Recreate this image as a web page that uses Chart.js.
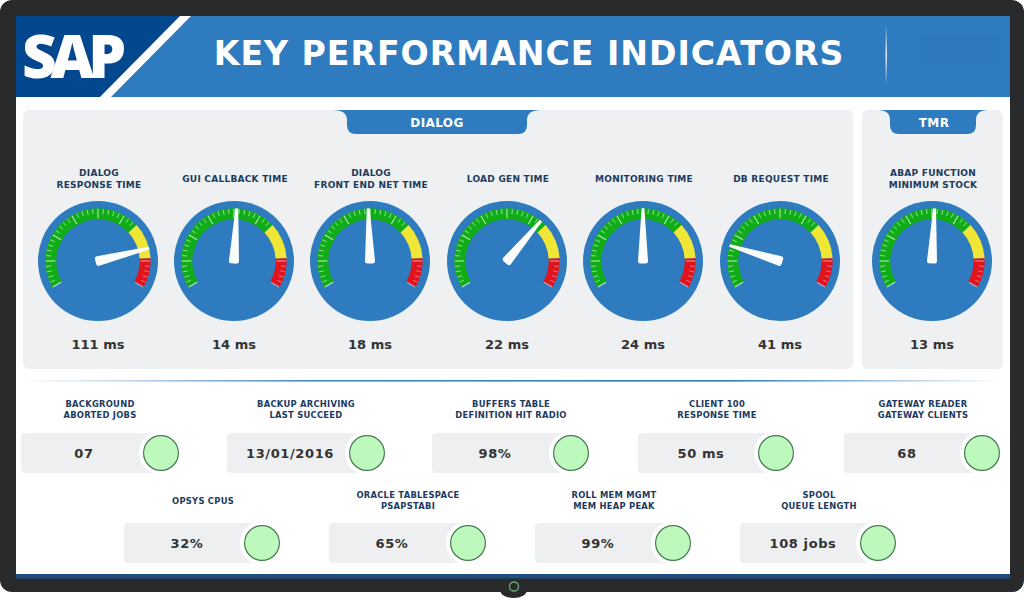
<!DOCTYPE html>
<html>
<head>
<meta charset="utf-8">
<title>Key Performance Indicators</title>
<script src="https://cdn.jsdelivr.net/npm/chart.js@4"></script>
<style>
    html, body { margin: 0; padding: 0; background: #fff; }
    #stage { position: relative; width: 1024px; height: 606px; overflow: hidden; font-family: "DejaVu Sans", sans-serif; }
    #stage svg { position: absolute; left: 0; top: 0; }
    .txt { position: absolute; transform: translate(-50%, -50%); white-space: pre; text-align: center; font-weight: bold; }
    .title { font-size: 34px; letter-spacing: 1px; color: #fff; transform: translate(-50%, -50%) scaleX(0.975); }
    .logo { font-family: "Open Sans", sans-serif; font-weight: 800; font-size: 60px; letter-spacing: -6px; color: #fff; }
    .tab { font-size: 12px; letter-spacing: 0.4px; color: #fff; }
    .label { font-size: 9px; line-height: 12.5px; letter-spacing: 0.25px; color: #1c3b60; }
    .tlabel { font-size: 8.4px; line-height: 11px; letter-spacing: 0.25px; color: #1c3b60; }
    .value { font-size: 13px; color: #333; }
    .tvalue { font-size: 13px; letter-spacing: 0.6px; color: #333; }
    .tile { position: absolute; width: 145px; height: 40px; background: #edeff0; border-radius: 4px; }
    .halo { position: absolute; width: 44px; height: 44px; border-radius: 50%; background: #fff; }
    canvas { position: absolute; }
    .gauge { border-radius: 50%; background: #2e7cbf; }
</style>
</head>
<body>
<div id="stage">
    <svg width="1024" height="606">
        <defs>
            <linearGradient id="sep" x1="0" x2="1" y1="0" y2="0">
                <stop offset="0" stop-color="#2e7cbf" stop-opacity="0"/>
                <stop offset="0.3" stop-color="#2e7cbf" stop-opacity="0.9"/>
                <stop offset="0.72" stop-color="#2e7cbf"/>
                <stop offset="1" stop-color="#2e7cbf" stop-opacity="0"/>
            </linearGradient>
            <linearGradient id="glint" x1="0" x2="0" y1="0" y2="1">
                <stop offset="0" stop-color="#fff" stop-opacity="0"/>
                <stop offset="0.5" stop-color="#fff" stop-opacity="0.9"/>
                <stop offset="1" stop-color="#fff" stop-opacity="0"/>
            </linearGradient>
        </defs>
        <rect x="0" y="0" width="1024" height="592" rx="12" fill="#292a2c"/>
        <path d="M500 590 A13.5 8 0 0 0 527 590 Z" fill="#292a2c"/>
        <rect x="16" y="16" width="994" height="562" fill="#fff"/>
        <rect x="16" y="16" width="994" height="81" fill="#2e7cbf"/>
        <rect x="920" y="35" width="80" height="30" fill="#2d79bb"/>
        <polygon points="16,16 180,16 100,97 16,97" fill="#03478f"/>
        <polygon points="180,16 191,16 111,97 100,97" fill="#fff"/>
        <rect x="885.5" y="24" width="1.5" height="62" fill="url(#glint)"/>
        <rect x="16" y="574" width="994" height="4.5" fill="#1d4f7f"/>
        <circle cx="514" cy="586.5" r="4.5" fill="none" stroke="#6fae7d" stroke-width="1.3"/>
        <rect x="23" y="110" width="830" height="259" rx="6" fill="#eef0f2"/>
        <rect x="862" y="110" width="141" height="259" rx="6" fill="#eef0f2"/>
        <path d="M333 110 Q347 110 347 120 L347 125 Q347 134 356 134 L518 134 Q527 134 527 125 L527 120 Q527 110 541 110 Z" fill="#2e7cbf"/>
        <path d="M878 110 Q890 110 890 120 L890 125 Q890 134 899 134 L967 134 Q976 134 976 125 L976 120 Q976 110 988 110 Z" fill="#2e7cbf"/>
        <rect x="23" y="380" width="980" height="1.6" fill="url(#sep)"/>
    </svg>
</div>
<script>
const titleText = 'KEY PERFORMANCE INDICATORS';
const logoText = 'SAP';
const groupNames = ['DIALOG', 'TMR'];

const gaugeLabels = ['DIALOG\nRESPONSE TIME', 'GUI CALLBACK TIME', 'DIALOG\nFRONT END NET TIME', 'LOAD GEN TIME', 'MONITORING TIME', 'DB REQUEST TIME', 'ABAP FUNCTION\nMINIMUM STOCK'];
const gaugeValues = [111, 14, 18, 22, 24, 41, 13];
const gaugeMax = [136, 27.3, 36.6, 33, 48, 209, 25.4];
const gaugeUnit = 'ms';
const zoneSpans = [167, 40, 33];
const zoneColors = ['#10ad17', '#efe635', '#e0141f'];

const tileLabels = ['BACKGROUND\nABORTED JOBS', 'BACKUP ARCHIVING\nLAST SUCCEED', 'BUFFERS TABLE\nDEFINITION HIT RADIO', 'CLIENT 100\nRESPONSE TIME', 'GATEWAY READER\nGATEWAY CLIENTS', 'OPSYS CPUS', 'ORACLE TABLESPACE\nPSAPSTABI', 'ROLL MEM MGMT\nMEM HEAP PEAK', 'SPOOL\nQUEUE LENGTH'];
const tileValues = ['07', '13/01/2016', '98%', '50 ms', '68', '32%', '65%', '99%', '108 jobs'];

const stage = document.querySelector('#stage');

function addText(text, cx, cy, cls) {
    const el = document.createElement('div');
    el.className = 'txt ' + cls;
    el.textContent = text;
    el.style.left = cx + 'px';
    el.style.top = cy + 'px';
    stage.appendChild(el);
}

function addCanvas(left, top, size, cls) {
    const c = document.createElement('canvas');
    c.width = size;
    c.height = size;
    c.style.left = left + 'px';
    c.style.top = top + 'px';
    c.style.width = size + 'px';
    c.style.height = size + 'px';
    if (cls) c.className = cls;
    stage.appendChild(c);
    return c;
}

const toRad = Math.PI / 180;

// white tick marks over the coloured ring, 6 degrees apart with a long one every 30
const ticksPlugin = {
    id: 'gaugeTicks',
    afterDatasetsDraw(chart) {
        const arc = chart.getDatasetMeta(1).data[0];
        const ctx = chart.ctx;
        ctx.save();
        ctx.translate(arc.x, arc.y);
        for (let d = -120; d <= 120; d += 6) {
            // the yellow part has no visible ticks
            if (d > 47 && d < 87) continue;
            const major = d % 30 === 0;
            const a = d * toRad;
            const r0 = major ? arc.innerRadius + 1 : arc.outerRadius - 5.5;
            const r1 = arc.outerRadius - 0.5;
            ctx.strokeStyle = d > 87 ? 'rgba(255,255,255,0.5)' : 'rgba(255,255,255,0.7)';
            ctx.lineWidth = major ? 1.1 : 0.8;
            ctx.beginPath();
            ctx.moveTo(Math.sin(a) * r0, -Math.cos(a) * r0);
            ctx.lineTo(Math.sin(a) * r1, -Math.cos(a) * r1);
            ctx.stroke();
        }
        ctx.restore();
    }
};

// needle follows the end of the value arc in the inner ring
const needlePlugin = {
    id: 'gaugeNeedle',
    afterDraw(chart) {
        const arc = chart.getDatasetMeta(2).data[0];
        const rim = chart.getDatasetMeta(1).data[0];
        const ctx = chart.ctx;
        ctx.save();
        ctx.translate(arc.x, arc.y);
        ctx.rotate(arc.endAngle + Math.PI / 2);
        ctx.fillStyle = '#fbfdfd';
        ctx.beginPath();
        ctx.moveTo(-1.4, -rim.outerRadius);
        ctx.lineTo(1.4, -rim.outerRadius);
        ctx.lineTo(5, 0);
        ctx.quadraticCurveTo(5, 2.5, 2.5, 2.5);
        ctx.lineTo(-2.5, 2.5);
        ctx.quadraticCurveTo(-5, 2.5, -5, 0);
        ctx.closePath();
        ctx.fill();
        ctx.restore();
    }
};

function drawGauge(canvas, value, max) {
    new Chart(canvas.getContext('2d'), {
        type: 'doughnut',
        data: {
            datasets: [
                { data: [1], rotation: 0, circumference: 360, backgroundColor: ['rgba(0,0,0,0)'], borderWidth: 0, weight: 7.3 },
                { data: zoneSpans, rotation: -120, circumference: 240, backgroundColor: zoneColors, borderWidth: 0, weight: 11 },
                { data: [value, max - value], rotation: -120, circumference: 240, backgroundColor: ['rgba(0,0,0,0)', 'rgba(0,0,0,0)'], borderWidth: 0, weight: 41.7 }
            ]
        },
        options: {
            responsive: false,
            animation: false,
            cutout: 0,
            layout: { padding: 0 },
            events: [],
            plugins: { legend: { display: false }, tooltip: { enabled: false } }
        },
        plugins: [ticksPlugin, needlePlugin]
    });
}

function drawLamp(canvas) {
    new Chart(canvas.getContext('2d'), {
        type: 'doughnut',
        data: {
            datasets: [
                { data: [1], backgroundColor: ['#3f7a4a'], borderWidth: 0, weight: 1.2 },
                { data: [1], backgroundColor: ['#bdf9bd'], borderWidth: 0, weight: 16.3 }
            ]
        },
        options: {
            responsive: false,
            animation: false,
            cutout: 0,
            layout: { padding: 0 },
            events: [],
            plugins: { legend: { display: false }, tooltip: { enabled: false } }
        }
    });
}

addText(logoText, 71, 55, 'logo');
addText(titleText, 528.5, 53, 'title');
addText(groupNames[0], 437, 123, 'tab');
addText(groupNames[1], 934, 123, 'tab');

const gaugeX = [98, 234, 370, 507, 643, 780, 932];
gaugeLabels.forEach((label, i) => {
    const cx = gaugeX[i];
    addText(label, cx + 1, 178.5, 'label');
    addText(gaugeValues[i] + ' ' + gaugeUnit, cx, 343.5, 'value');
    drawGauge(addCanvas(cx - 60, 201, 120, 'gauge'), gaugeValues[i], gaugeMax[i]);
});

const tileX = [21, 227, 432, 638, 844, 124, 329, 535, 740];
const lampX = [161, 367, 571, 776, 982, 262, 468, 673, 878];
tileLabels.forEach((label, i) => {
    const row2 = i >= 5;
    const x = tileX[i];
    const y = row2 ? 523 : 433;
    const tile = document.createElement('div');
    tile.className = 'tile';
    tile.style.left = x + 'px';
    tile.style.top = y + 'px';
    stage.appendChild(tile);
    const halo = document.createElement('div');
    halo.className = 'halo';
    halo.style.left = (lampX[i] - 22) + 'px';
    halo.style.top = (y - 2) + 'px';
    stage.appendChild(halo);
    drawLamp(addCanvas(lampX[i] - 18, y + 2, 36));
    addText(tileValues[i], x + 63, y + 20, 'tvalue');
    addText(label, x + 79, row2 ? y - 22.5 : y - 23.5, 'tlabel');
});
</script>
</body>
</html>
